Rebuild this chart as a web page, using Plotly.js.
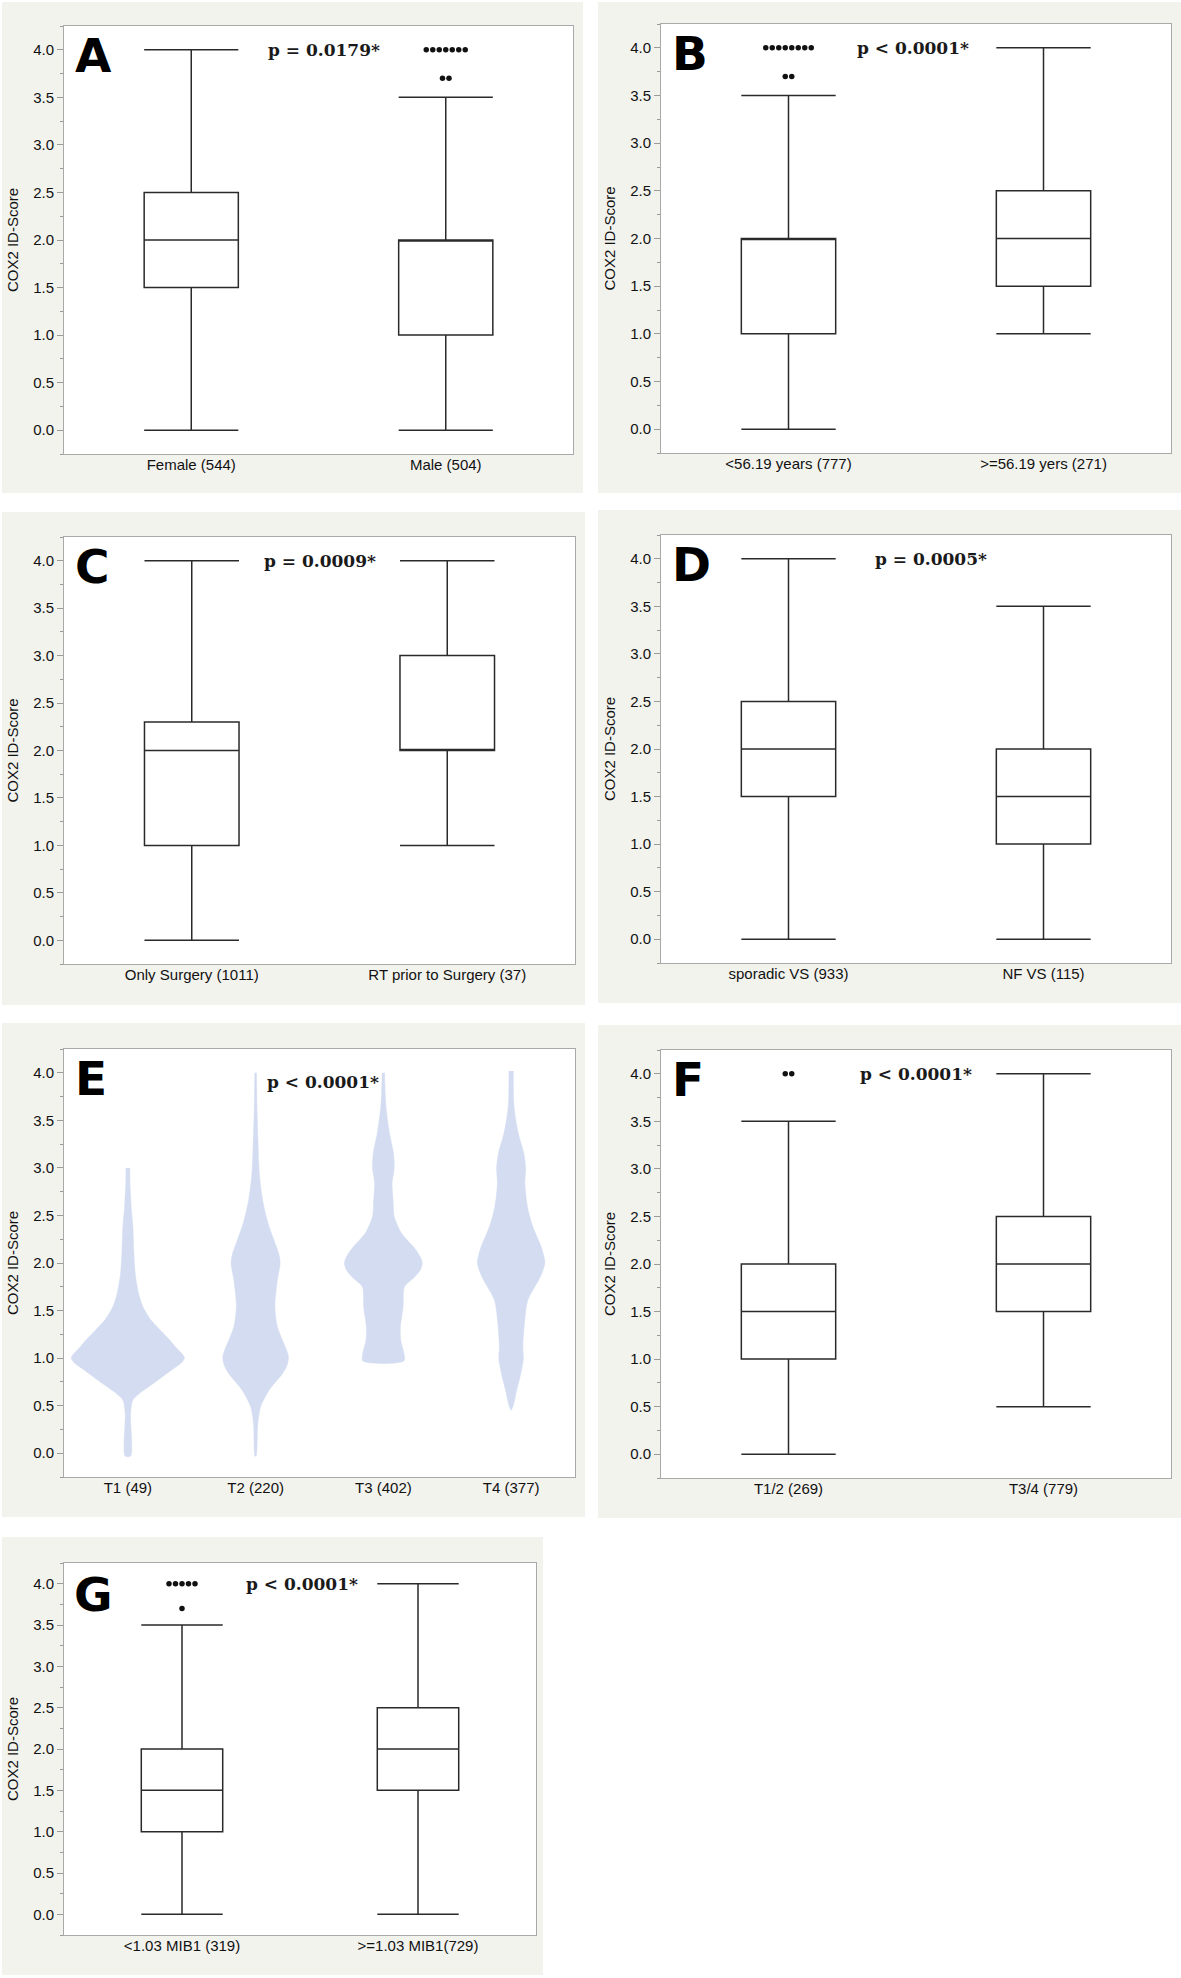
<!DOCTYPE html>
<html>
<head>
<meta charset="utf-8">
<script src="https://cdn.plot.ly/plotly-3.0.1.min.js"></script>
<style>
html, body { margin: 0; padding: 0; background: #ffffff; }
#chart { width: 1181px; height: 1978px; }
</style>
</head>
<body>
<div id="chart"></div>
<script>
// ================= DATA =================
const yTitleText = 'COX2 ID-Score';
const panelLetters = ['A', 'B', 'C', 'D', 'E', 'F', 'G'];
const pValueTexts = ['p = 0.0179*', 'p < 0.0001*', 'p = 0.0009*', 'p = 0.0005*',
                     'p < 0.0001*', 'p < 0.0001*', 'p < 0.0001*'];

// A: sex
const catsA = ['Female (544)', 'Male (504)'];
const lowA = [0.0, 0.0];
const q1A = [1.5, 1.0];
const medA = [2.0, 2.0];
const q3A = [2.5, 2.0];
const highA = [4.0, 3.5];
const outGroupA = 1;
const outValA = [4.0, 3.7];
const outCntA = [7, 2];

// B: age
const catsB = ['<56.19 years (777)', '>=56.19 yers (271)'];
const lowB = [0.0, 1.0];
const q1B = [1.0, 1.5];
const medB = [2.0, 2.0];
const q3B = [2.0, 2.5];
const highB = [3.5, 4.0];
const outGroupB = 0;
const outValB = [4.0, 3.7];
const outCntB = [8, 2];

// C: treatment
const catsC = ['Only Surgery (1011)', 'RT prior to Surgery (37)'];
const lowC = [0.0, 1.0];
const q1C = [1.0, 2.0];
const medC = [2.0, 2.0];
const q3C = [2.3, 3.0];
const highC = [4.0, 4.0];
const outGroupC = 0;
const outValC = [];
const outCntC = [];

// D: VS type
const catsD = ['sporadic VS (933)', 'NF VS (115)'];
const lowD = [0.0, 0.0];
const q1D = [1.5, 1.0];
const medD = [2.0, 1.5];
const q3D = [2.5, 2.0];
const highD = [4.0, 3.5];
const outGroupD = 0;
const outValD = [];
const outCntD = [];

// E: violin densities (half-width, relative units) at COX2 levels, per T stage
const catsE = ['T1 (49)', 'T2 (220)', 'T3 (402)', 'T4 (377)'];
const violinYT1 = [3.0, 2.87, 2.59, 2.38, 2.1, 1.89, 1.68, 1.54, 1.4, 1.3, 1.19, 1.1, 1.04, 1.0, 0.95, 0.87, 0.73, 0.63, 0.56, 0.42, -0.03];
const violinWT1 = [2.0, 2.0, 3.3, 5.0, 6.0, 7.3, 10.7, 15.0, 23.0, 31.7, 41.7, 49.0, 54.5, 56.5, 53.5, 43.0, 25.0, 11.7, 5.0, 2.7, 2.7];
const violinYT2 = [4.0, 3.65, 3.3, 2.94, 2.66, 2.42, 2.24, 2.1, 2.0, 1.82, 1.54, 1.33, 1.19, 1.08, 1.01, 0.93, 0.84, 0.66, 0.49, 0.32, -0.03];
const violinWT2 = [0.8, 1.3, 2.3, 3.7, 7.0, 12.3, 18.3, 23.0, 24.5, 21.7, 19.2, 21.7, 26.7, 31.0, 32.8, 31.5, 27.0, 13.3, 5.0, 2.2, 0.5];
const violinYT3 = [4.0, 3.65, 3.37, 3.16, 3.0, 2.84, 2.66, 2.49, 2.31, 2.17, 2.07, 2.0, 1.93, 1.85, 1.75, 1.54, 1.33, 1.19, 1.05, 0.97];
const violinWT3 = [1.2, 2.5, 6.0, 10.0, 10.8, 8.7, 9.7, 10.8, 18.3, 30.0, 36.5, 38.8, 37.0, 31.0, 21.0, 19.7, 17.0, 17.3, 20.5, 20.5];
const violinYT4 = [4.02, 3.65, 3.37, 3.16, 3.0, 2.84, 2.59, 2.38, 2.17, 2.08, 2.01, 1.93, 1.82, 1.61, 1.37, 1.12, 0.99, 0.84, 0.66, 0.49, 0.45];
const violinWT4 = [2.2, 2.8, 7.0, 12.5, 14.5, 13.7, 16.3, 21.7, 30.0, 32.5, 33.7, 32.0, 27.5, 16.7, 13.3, 11.7, 12.2, 9.7, 5.5, 1.8, 0.0];

// F: T stage grouped
const catsF = ['T1/2 (269)', 'T3/4 (779)'];
const lowF = [0.0, 0.5];
const q1F = [1.0, 1.5];
const medF = [1.5, 2.0];
const q3F = [2.0, 2.5];
const highF = [3.5, 4.0];
const outGroupF = 0;
const outValF = [4.0];
const outCntF = [2];

// G: MIB1
const catsG = ['<1.03 MIB1 (319)', '>=1.03 MIB1(729)'];
const lowG = [0.0, 0.0];
const q1G = [1.0, 1.5];
const medG = [1.5, 2.0];
const q3G = [2.0, 2.5];
const highG = [3.5, 4.0];
const outGroupG = 0;
const outValG = [4.0, 3.7];
const outCntG = [5, 1];

// ================= LAYOUT / STYLE =================
const W = 1181, H = 1978;
const SANS = 'Liberation Sans, Arial, Helvetica, sans-serif';
const SERIF = 'DejaVu Serif, Georgia, serif';
const BEIGE = '#f3f3ee';
const FRAME = '#a9a9a9';
const INK = '#2a2a2a';
const TEXT = '#111111';
const VIOLIN = '#d3dcf0';
const DOT_SPACING = 6.5;   // px between stacked outlier dots
const VIOLIN_UNIT = 1 / 127.5; // relative density unit -> category units

// frame rectangles in px: [left, right, top, bottom]; panel backgrounds likewise
const frames = [
  [64, 573, 26, 454], [661, 1171, 24, 453],
  [64, 575, 537, 964], [661, 1171, 535, 963],
  [64, 575, 1049, 1477], [661, 1171, 1050, 1478],
  [64, 536, 1563, 1935]
];
const backs = [
  [2, 583, 2, 493], [598, 1181, 2, 493],
  [2, 585, 512, 1005], [598, 1181, 510, 1003],
  [2, 585, 1023, 1517], [598, 1181, 1025, 1518],
  [2, 543, 1537, 1975]
];

const boxPanels = [
  {i: 0, cats: catsA, low: lowA, q1: q1A, med: medA, q3: q3A, high: highA, og: outGroupA, ov: outValA, oc: outCntA, bw: 0.37, px: 0.52, py: 4.0},
  {i: 1, cats: catsB, low: lowB, q1: q1B, med: medB, q3: q3B, high: highB, og: outGroupB, ov: outValB, oc: outCntB, bw: 0.37, px: 0.49, py: 4.0},
  {i: 2, cats: catsC, low: lowC, q1: q1C, med: medC, q3: q3C, high: highC, og: outGroupC, ov: outValC, oc: outCntC, bw: 0.37, px: 0.5, py: 4.0},
  {i: 3, cats: catsD, low: lowD, q1: q1D, med: medD, q3: q3D, high: highD, og: outGroupD, ov: outValD, oc: outCntD, bw: 0.37, px: 0.56, py: 4.0},
  {i: 5, cats: catsF, low: lowF, q1: q1F, med: medF, q3: q3F, high: highF, og: outGroupF, ov: outValF, oc: outCntF, bw: 0.37, px: 0.5, py: 4.0},
  {i: 6, cats: catsG, low: lowG, q1: q1G, med: medG, q3: q3G, high: highG, og: outGroupG, ov: outValG, oc: outCntG, bw: 0.345, px: 0.51, py: 4.0}
];

function axId(i, letter) { return letter + (i === 0 ? '' : (i + 1)); }
function axKey(i, letter) { return letter + 'axis' + (i === 0 ? '' : (i + 1)); }

const traces = [];
const layout = {
  width: W, height: H,
  margin: {l: 0, r: 0, t: 0, b: 0, pad: 0},
  paper_bgcolor: '#ffffff',
  plot_bgcolor: '#ffffff',
  showlegend: false,
  hovermode: false,
  font: {family: SANS, color: TEXT},
  shapes: [],
  annotations: []
};

// backgrounds
backs.forEach(b => {
  layout.shapes.push({type: 'rect', xref: 'paper', yref: 'paper', layer: 'below',
    x0: b[0] / W, x1: b[1] / W, y0: 1 - b[3] / H, y1: 1 - b[2] / H,
    fillcolor: BEIGE, line: {width: 0}});
});
frames.forEach(f => {
  layout.shapes.push({type: 'rect', xref: 'paper', yref: 'paper', layer: 'below',
    x0: f[0] / W, x1: f[1] / W, y0: 1 - f[3] / H, y1: 1 - f[2] / H,
    fillcolor: '#ffffff', line: {width: 0}});
});

// axes
const allCats = [catsA, catsB, catsC, catsD, catsE, catsF, catsG];
frames.forEach((f, i) => {
  const cats = allCats[i];
  layout[axKey(i, 'x')] = {
    domain: [f[0] / W, f[1] / W],
    anchor: axId(i, 'y'),
    range: [-0.5, cats.length - 0.5],
    tickmode: 'array', tickvals: cats.map((c, k) => k), ticktext: cats,
    ticks: '', ticklabelstandoff: -3, showgrid: false, zeroline: false,
    showline: true, mirror: true, linecolor: FRAME, linewidth: 1,
    tickfont: {family: SANS, size: 15, color: TEXT},
    fixedrange: true
  };
  layout[axKey(i, 'y')] = {
    domain: [1 - f[3] / H, 1 - f[2] / H],
    anchor: axId(i, 'x'),
    range: [-0.25, 4.25],
    tickmode: 'linear', tick0: 0, dtick: 0.5, tickformat: '.1f',
    ticks: 'outside', ticklen: 6, tickwidth: 1, tickcolor: '#9a9a9a',
    minor: {tickmode: 'linear', tick0: 0, dtick: 0.25, ticks: 'outside', ticklen: 3, tickwidth: 1, tickcolor: '#9a9a9a'},
    showgrid: false, zeroline: false,
    showline: true, mirror: true, linecolor: FRAME, linewidth: 1,
    tickfont: {family: SANS, size: 15, color: TEXT},
    title: {text: yTitleText, font: {family: SANS, size: 15, color: TEXT}, standoff: 10},
    fixedrange: true
  };
  // panel letter
  layout.annotations.push({
    xref: axId(i, 'x') + ' domain', yref: axId(i, 'y') + ' domain',
    x: 0.018, y: i === 6 ? 0.915 : 0.932, xanchor: 'left', yanchor: 'middle',
    text: panelLetters[i], showarrow: false,
    font: {family: 'DejaVu Sans, Liberation Sans, Arial', size: 47, weight: 'bold', color: '#000000'}
  });
});

// box panels
boxPanels.forEach(p => {
  const f = frames[p.i];
  const pxPerUnit = (f[1] - f[0]) / p.cats.length;
  traces.push({
    type: 'box', xaxis: axId(p.i, 'x'), yaxis: axId(p.i, 'y'),
    x: p.cats.map((c, k) => k),
    lowerfence: p.low, q1: p.q1, median: p.med, q3: p.q3, upperfence: p.high,
    width: p.bw, whiskerwidth: 1, boxpoints: false,
    fillcolor: '#ffffff', line: {color: INK, width: 1.5},
    hoverinfo: 'skip', showlegend: false
  });
  const xs = [], ys = [];
  p.ov.forEach((v, j) => {
    const n = p.oc[j];
    for (let k = 0; k < n; k++) {
      xs.push(p.og + (k - (n - 1) / 2) * DOT_SPACING / pxPerUnit);
      ys.push(v);
    }
  });
  if (xs.length) {
    traces.push({
      type: 'scatter', mode: 'markers', xaxis: axId(p.i, 'x'), yaxis: axId(p.i, 'y'),
      x: xs, y: ys, marker: {size: 5.5, color: '#111111'},
      hoverinfo: 'skip', showlegend: false
    });
  }
  layout.annotations.push({
    xref: axId(p.i, 'x'), yref: axId(p.i, 'y'), x: p.px, y: p.py,
    xanchor: 'center', yanchor: 'middle', text: pValueTexts[p.i], showarrow: false,
    font: {family: SERIF, size: 17, weight: 'bold', color: '#1a1a1a'}
  });
});

// violin panel E
const violinY = [violinYT1, violinYT2, violinYT3, violinYT4];
const violinWd = [violinWT1, violinWT2, violinWT3, violinWT4];
violinY.forEach((ys, k) => {
  const ws = violinWd[k];
  const px = [], py = [];
  for (let j = 0; j < ys.length; j++) { px.push(k + ws[j] * VIOLIN_UNIT); py.push(ys[j]); }
  for (let j = ys.length - 1; j >= 0; j--) { px.push(k - ws[j] * VIOLIN_UNIT); py.push(ys[j]); }
  traces.push({
    type: 'scatter', mode: 'lines', xaxis: 'x5', yaxis: 'y5',
    x: px, y: py, fill: 'toself', fillcolor: VIOLIN,
    line: {color: VIOLIN, width: 0.5, shape: 'spline', smoothing: 0.8},
    hoverinfo: 'skip', showlegend: false
  });
});
layout.annotations.push({
  xref: 'x5', yref: 'y5', x: 1.53, y: 3.9, xanchor: 'center', yanchor: 'middle',
  text: pValueTexts[4], showarrow: false,
  font: {family: SERIF, size: 17, weight: 'bold', color: '#1a1a1a'}
});

Plotly.newPlot('chart', traces, layout, {staticPlot: true, displayModeBar: false});
</script>
</body>
</html>
